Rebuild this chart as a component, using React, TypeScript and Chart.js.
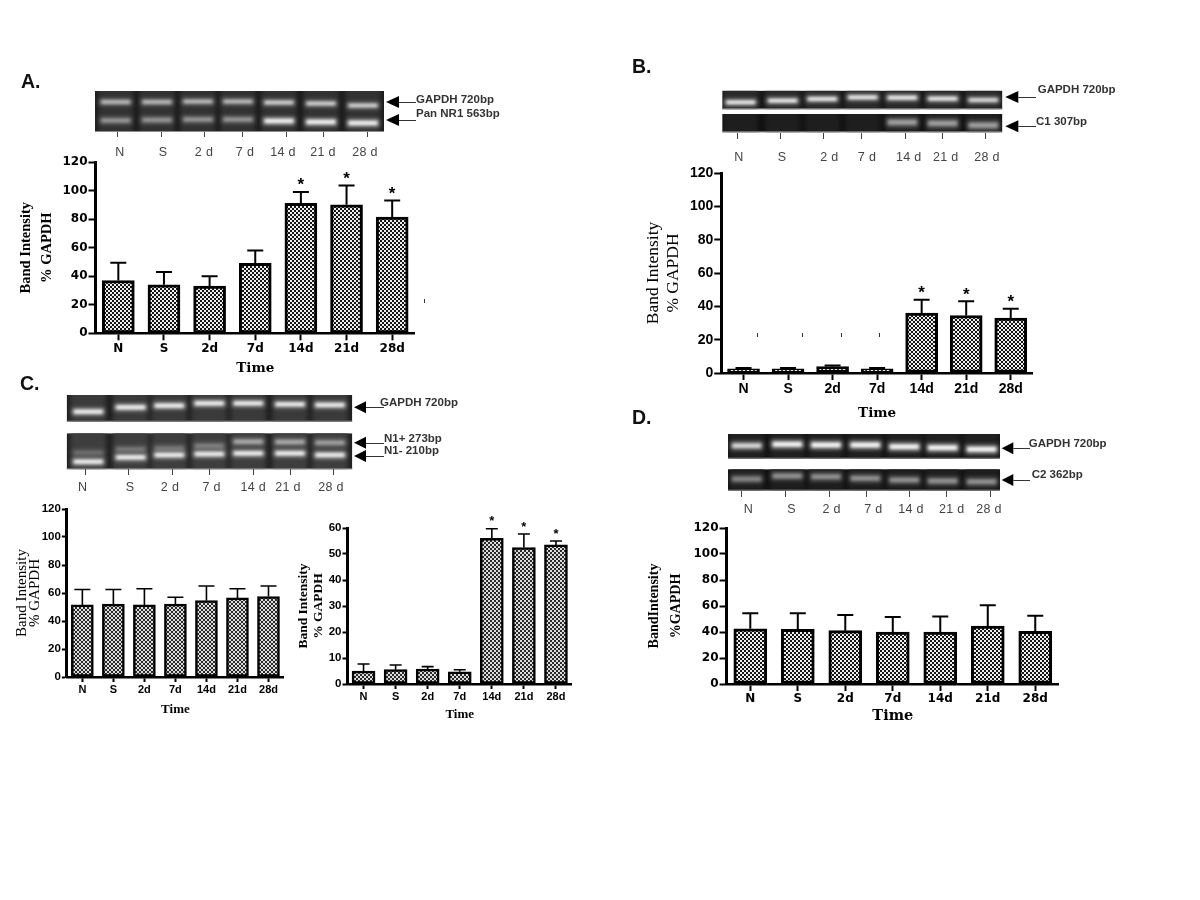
import React, { useEffect, useRef } from "react";
import { Chart, registerables } from "chart.js";

Chart.register(...registerables);

const categories = ["N", "S", "2d", "7d", "14d", "21d", "28d"];
const gelLabels = ["N", "S", "2 d", "7 d", "14 d", "21 d", "28 d"];

const valuesA = [37, 34, 33, 49, 91, 90, 81.5];
const errorTopsA = [49.5, 43, 40, 58, 99, 103.5, 93];
const starsA = [0, 0, 0, 0, 1, 1, 1];

const valuesB = [2.5, 2.5, 3.8, 2.5, 36, 34.5, 33];
const errorTopsB = [3, 3, 4.5, 3, 44, 43, 38.5];
const starsB = [0, 0, 0, 0, 1, 1, 1];

const valuesC1 = [51.5, 52, 51.5, 52, 54.5, 56.5, 57.5];
const errorTopsC1 = [62.5, 62.5, 63, 57, 65, 63, 65];
const starsC1 = [0, 0, 0, 0, 0, 0, 0];

const valuesC2 = [5, 5.5, 5.7, 4.7, 56, 52.5, 53.5];
const errorTopsC2 = [7.7, 7.3, 6.7, 5.5, 59.7, 57.7, 55];
const starsC2 = [0, 0, 0, 0, 1, 1, 1];

const valuesD = [42.5, 42, 41, 40, 40, 44.5, 40.5];
const errorTopsD = [54.5, 54.5, 53, 51.5, 52, 60.5, 52.5];
const starsD = [0, 0, 0, 0, 0, 0, 0];

type PanelCfg = {
  values: number[]; tops: number[]; stars: number[];
  axisX: number; right: number; plotTop: number; plotBottom: number;
  max: number; step: number;
  titleLines: string[]; titleX: number; titleFont: any; titleLh: number;
  timeY: number; timeFont: any; timeLh: number;
  tickFont: any; xTickFont: any; barW: number; borderW: number; capHalf: number;
  errW: number; starGap: number; starSize: number; tickLen: number;
  cell: number; dark: string; light: string;
};

const SANS = "'Liberation Sans', Arial, sans-serif";
const SERIF = "'Liberation Serif', 'Times New Roman', serif";
const DSERIF = "'DejaVu Serif', 'Liberation Serif', serif";
const DEJA = "'DejaVu Sans', sans-serif";

const panels: PanelCfg[] = [
  { values: valuesA, tops: errorTopsA, stars: starsA, axisX: 95, right: 414, plotTop: 161.7, plotBottom: 333.3,
    max: 120, step: 20, titleLines: ["Band Intensity", "% GAPDH"], titleX: 26, titleLh: 21,
    titleFont: { family: SERIF, size: 14.5, weight: "bold", lineHeight: 1.448 },
    timeY: 368, timeLh: 20, timeFont: { family: DSERIF, size: 13.5, weight: "bold", lineHeight: 1.481 },
    tickFont: { family: DEJA, size: 12, weight: "bold" }, xTickFont: { family: DEJA, size: 12, weight: "bold" },
    barW: 32, borderW: 3, capHalf: 8, errW: 2, starGap: 9, starSize: 17, tickLen: 7, cell: 2, dark: "#161616", light: "#eeeeee" },
  { values: valuesB, tops: errorTopsB, stars: starsB, axisX: 721, right: 1033, plotTop: 173.3, plotBottom: 373,
    max: 120, step: 20, titleLines: ["Band Intensity", "% GAPDH"], titleX: 653, titleLh: 20.5,
    titleFont: { family: SERIF, size: 17.5, weight: "normal", lineHeight: 1.171 },
    timeY: 413, timeLh: 20, timeFont: { family: DSERIF, size: 13.5, weight: "bold", lineHeight: 1.481 },
    tickFont: { family: SANS, size: 14, weight: "bold" }, xTickFont: { family: SANS, size: 14, weight: "bold" },
    barW: 32, borderW: 3, capHalf: 8, errW: 2, starGap: 9, starSize: 17, tickLen: 7, cell: 2, dark: "#161616", light: "#eeeeee" },
  { values: valuesC1, tops: errorTopsC1, stars: starsC1, axisX: 66.7, right: 284, plotTop: 509.3, plotBottom: 677,
    max: 120, step: 20, titleLines: ["Band Intensity", "% GAPDH"], titleX: 21.5, titleLh: 13.3,
    titleFont: { family: SERIF, size: 15, weight: "normal", lineHeight: 0.887 },
    timeY: 710, timeLh: 16, timeFont: { family: SERIF, size: 13, weight: "bold", lineHeight: 1.23 },
    tickFont: { family: SANS, size: 11.5, weight: "bold" }, xTickFont: { family: SANS, size: 11, weight: "bold" },
    barW: 22, borderW: 2.5, capHalf: 8, errW: 1.6, starGap: 8, starSize: 13, tickLen: 5, cell: 2, dark: "#2a2a2a", light: "#dddddd" },
  { values: valuesC2, tops: errorTopsC2, stars: starsC2, axisX: 347.3, right: 571.7, plotTop: 528, plotBottom: 684,
    max: 60, step: 10, titleLines: ["Band Intensity", "% GAPDH"], titleX: 303.3, titleLh: 15,
    titleFont: { family: SERIF, size: 13.5, weight: "bold", lineHeight: 1.111 },
    timeY: 715, timeLh: 16, timeFont: { family: SERIF, size: 13, weight: "bold", lineHeight: 1.23 },
    tickFont: { family: SANS, size: 11.5, weight: "bold" }, xTickFont: { family: SANS, size: 11, weight: "bold" },
    barW: 23, borderW: 2.5, capHalf: 6, errW: 1.6, starGap: 9, starSize: 13, tickLen: 5, cell: 2, dark: "#2a2a2a", light: "#dddddd" },
  { values: valuesD, tops: errorTopsD, stars: starsD, axisX: 726.7, right: 1058.7, plotTop: 528.3, plotBottom: 684,
    max: 120, step: 20, titleLines: ["BandIntensity", "%GAPDH"], titleX: 655, titleLh: 21.7,
    titleFont: { family: SERIF, size: 14, weight: "bold", lineHeight: 1.55 },
    timeY: 716, timeLh: 20, timeFont: { family: DSERIF, size: 14.5, weight: "bold", lineHeight: 1.379 },
    tickFont: { family: DEJA, size: 12, weight: "bold" }, xTickFont: { family: DEJA, size: 12, weight: "bold" },
    barW: 33, borderW: 3, capHalf: 8, errW: 2, starGap: 9, starSize: 17, tickLen: 7, cell: 2, dark: "#161616", light: "#eeeeee" },
];

function makePattern(cell: number, dark: string, light: string) {
  const c = document.createElement("canvas");
  c.width = c.height = cell * 2;
  const g = c.getContext("2d")!;
  g.fillStyle = light; g.fillRect(0, 0, cell * 2, cell * 2);
  g.fillStyle = dark; g.fillRect(0, 0, cell, cell); g.fillRect(cell, cell, cell, cell);
  return g.createPattern(c, "repeat")!;
}

const errorBarsPlugin = {
  id: "errorBars",
  afterDatasetsDraw(chart: any, _a: any, o: any) {
    const { ctx, scales } = chart;
    const meta = chart.getDatasetMeta(0);
    ctx.save();
    ctx.strokeStyle = "#000";
    ctx.lineWidth = o.width;
    meta.data.forEach((bar: any, i: number) => {
      const yTop = scales.y.getPixelForValue(o.tops[i]);
      ctx.beginPath();
      ctx.moveTo(bar.x, bar.y);
      ctx.lineTo(bar.x, yTop);
      ctx.moveTo(bar.x - o.capHalf, yTop);
      ctx.lineTo(bar.x + o.capHalf, yTop);
      ctx.stroke();
      if (o.stars[i]) {
        ctx.fillStyle = "#000";
        ctx.font = `bold ${o.starSize}px ${SANS}`;
        ctx.textAlign = "center";
        ctx.textBaseline = "middle";
        ctx.fillText("*", bar.x, yTop - o.starGap + o.starSize * 0.15);
      }
    });
    ctx.restore();
  },
};

function Panel({ p }: { p: PanelCfg }) {
  const ref = useRef<HTMLCanvasElement>(null);
  const left = p.titleX - p.titleLh / 2;
  const pad = 14;
  const top = p.plotTop - pad;
  const bottom = p.timeY + p.timeLh / 2;
  const W = p.axisX - left;
  const H = bottom - p.plotBottom;
  useEffect(() => {
    const chart = new Chart(ref.current!, {
      type: "bar",
      data: {
        labels: categories,
        datasets: [{
          data: p.values,
          backgroundColor: makePattern(p.cell, p.dark, p.light) as any,
          borderColor: "#000",
          borderWidth: p.borderW,
          borderSkipped: false,
          barThickness: p.barW,
        }],
      },
      plugins: [errorBarsPlugin],
      options: {
        animation: false,
        responsive: false,
        maintainAspectRatio: false,
        layout: { padding: { top: pad, left: 0, right: 0, bottom: 0 } },
        plugins: {
          legend: { display: false },
          tooltip: { enabled: false },
          errorBars: { tops: p.tops, stars: p.stars, width: p.errW, capHalf: p.capHalf, starGap: p.starGap, starSize: p.starSize },
        } as any,
        scales: {
          x: {
            grid: { offset: false, drawOnChartArea: false, drawTicks: true, tickLength: p.tickLen, tickWidth: 2, tickColor: "#000" },
            border: { display: true, color: "#000", width: 2.5 },
            ticks: { color: "#000", font: p.xTickFont, padding: 1, maxRotation: 0, autoSkip: false },
            title: { display: true, text: "Time", color: "#000", font: p.timeFont, padding: { top: 0, bottom: 0 } },
            afterFit: (s: any) => { s.height = H; },
          },
          y: {
            min: 0, max: p.max,
            grid: { drawOnChartArea: false, drawTicks: true, tickLength: p.tickLen, tickWidth: 2, tickColor: "#000" },
            border: { display: true, color: "#000", width: 3 },
            ticks: { color: "#000", font: p.tickFont, stepSize: p.step, padding: 1 },
            title: { display: true, text: p.titleLines, color: "#000", font: p.titleFont, padding: { top: 0, bottom: 0 } },
            afterFit: (s: any) => { s.width = W; },
          },
        },
      } as any,
    });
    return () => chart.destroy();
  }, []);
  return (
    <canvas
      ref={ref}
      width={Math.round(p.right - left)}
      height={Math.round(bottom - top)}
      style={{ position: "absolute", left, top, display: "block" }}
    />
  );
}

type Row = { ys: number[]; levels: number[]; thick: number };
type Strip = { x0: number; x1: number; y0: number; y1: number; lanes: number[]; halfW: number; bg: number; rows: Row[] };

const L4 = (a: number, b: number) => [a, a, a, a, b, b, b];

const strips: Strip[] = [
  { x0: 95, x1: 384, y0: 91, y1: 132, lanes: [115.7, 157, 198, 238, 279, 321, 363], halfW: 17, bg: 50, rows: [
    { ys: [102, 102, 101.5, 101.5, 102.5, 103.5, 105.5], levels: L4(0.68, 0.78), thick: 6 },
    { ys: [120.5, 120, 119.5, 119.5, 121, 122, 123], levels: L4(0.48, 1), thick: 7 } ] },
  { x0: 722.3, x1: 1002.3, y0: 90.7, y1: 109.3, lanes: [740.7, 782.7, 822.3, 862.7, 902.3, 942.7, 983.3], halfW: 17, bg: 42, rows: [
    { ys: [102.3, 100.7, 99, 97.3, 97.7, 98.7, 100], levels: [0.95, 0.95, 0.95, 0.95, 1, 0.95, 0.85], thick: 6 } ] },
  { x0: 722.3, x1: 1002.3, y0: 114, y1: 132.3, lanes: [740.7, 782.7, 822.3, 862.7, 902.3, 942.7, 983.3], halfW: 17, bg: 30, rows: [
    { ys: [122, 122, 122, 122, 122.3, 123.3, 125.3], levels: L4(0, 0.55), thick: 9 } ] },
  { x0: 66.7, x1: 352.3, y0: 395, y1: 421.7, lanes: [88.3, 130.7, 169.3, 209.3, 248.3, 290, 330], halfW: 17, bg: 58, rows: [
    { ys: [411.7, 407.3, 405.7, 403.3, 403.3, 404.3, 405], levels: L4(1, 0.95), thick: 6.5 } ] },
  { x0: 66.7, x1: 352.3, y0: 433.3, y1: 469.3, lanes: [88.3, 130.7, 169.3, 209.3, 248.3, 290, 330], halfW: 17, bg: 62, rows: [
    { ys: [452.7, 449.3, 448.3, 446, 441.7, 442, 442.7], levels: [0.25, 0.3, 0.3, 0.35, 0.55, 0.55, 0.5], thick: 7 },
    { ys: [461.7, 457.3, 455, 454, 453.3, 453.3, 455], levels: L4(1, 1), thick: 6.5 } ] },
  { x0: 728, x1: 1000, y0: 434, y1: 458.7, lanes: [746.7, 787.3, 826, 865.3, 904.3, 942.7, 981.7], halfW: 17, bg: 32, rows: [
    { ys: [445.7, 444.3, 445, 445, 446.7, 447.7, 449.3], levels: [0.8, 1, 1, 1, 1, 1, 1], thick: 8 } ] },
  { x0: 728, x1: 1000, y0: 469.3, y1: 490.7, lanes: [746.7, 787.3, 826, 865.3, 904.3, 942.7, 981.7], halfW: 17, bg: 30, rows: [
    { ys: [479, 476, 476.7, 478.3, 480, 481, 481.7], levels: [0.45, 0.5, 0.5, 0.5, 0.5, 0.5, 0.5], thick: 8 } ] },
];

const gelTicks = [
  { xs: [117, 161, 204, 242, 286, 323, 367], y0: 132, y1: 137 },
  { xs: [737, 780.3, 823.3, 860.7, 905, 942, 985.3], y0: 133, y1: 139 },
  { xs: [85, 128.3, 172, 209, 253, 290, 333.3], y0: 469, y1: 475 },
  { xs: [741.3, 785, 828.7, 865.7, 909.3, 946.3, 990], y0: 491, y1: 497 },
];

const arrows = [
  { tip: 386, base: 399, y: 102, end: 416 },
  { tip: 386, base: 399, y: 120, end: 416 },
  { tip: 1005.3, base: 1018.3, y: 97, end: 1036 },
  { tip: 1005.3, base: 1018.3, y: 126.3, end: 1036 },
  { tip: 354, base: 366, y: 407.3, end: 384 },
  { tip: 354, base: 366, y: 442.7, end: 384 },
  { tip: 354, base: 366, y: 456, end: 384 },
  { tip: 1001.7, base: 1013.3, y: 448.3, end: 1030 },
  { tip: 1001.7, base: 1013.3, y: 480, end: 1030 },
];

const strayMarks = [
  { x: 424.3, y: 301 }, { x: 757.3, y: 335 }, { x: 802.3, y: 335 }, { x: 841, y: 335 }, { x: 879, y: 335 },
];

const laneLabelSets = [
  { xs: [120, 163, 204, 245, 283, 323, 365], y: 152 },
  { xs: [739, 782, 829.3, 867, 908.7, 945.7, 987], y: 157.3 },
  { xs: [82.7, 130, 170, 211.7, 253.3, 288, 331], y: 487.3 },
  { xs: [748.3, 791.7, 831.7, 873.3, 911, 951.7, 989], y: 509.3 },
];

const bandLabels = [
  { t: "GAPDH 720bp", x: 416, y: 99.7 },
  { t: "Pan NR1 563bp", x: 416, y: 113.5 },
  { t: "GAPDH 720bp", x: 1037.7, y: 90 },
  { t: "C1 307bp", x: 1036, y: 122.3 },
  { t: "GAPDH 720bp", x: 380, y: 402.7 },
  { t: "N1+ 273bp", x: 384, y: 439 },
  { t: "N1- 210bp", x: 384, y: 450.7 },
  { t: "GAPDH 720bp", x: 1028.7, y: 444.3 },
  { t: "C2 362bp", x: 1031.7, y: 474.7 },
];

const panelLetters = [
  { t: "A.", x: 21, y: 81.5 },
  { t: "B.", x: 632, y: 66.7 },
  { t: "C.", x: 20, y: 384 },
  { t: "D.", x: 632, y: 418.3 },
];

function grey(v: number) {
  const n = Math.max(0, Math.min(255, Math.round(v)));
  return `rgb(${n},${n},${n})`;
}

function Backdrop() {
  const ref = useRef<HTMLCanvasElement>(null);
  useEffect(() => {
    const g = ref.current!.getContext("2d")!;
    g.fillStyle = "#fff";
    g.fillRect(0, 0, 1200, 900);
    for (const s of strips) {
      g.save();
      g.beginPath();
      g.rect(s.x0, s.y0, s.x1 - s.x0, s.y1 - s.y0);
      g.clip();
      g.fillStyle = grey(s.bg * 0.5);
      g.fillRect(s.x0, s.y0, s.x1 - s.x0, s.y1 - s.y0);
      g.filter = "blur(2.5px)";
      g.fillStyle = grey(s.bg);
      s.lanes.forEach((x) => g.fillRect(x - s.halfW - 1, s.y0 - 6, s.halfW * 2 + 2, s.y1 - s.y0 + 12));
      for (const r of s.rows) {
        s.lanes.forEach((x, i) => {
          const lv = r.levels[i];
          if (lv <= 0) return;
          g.filter = "blur(2px)";
          g.fillStyle = grey(s.bg + (225 - s.bg) * lv * 0.7);
          g.fillRect(x - s.halfW + 1, r.ys[i] - r.thick / 2, s.halfW * 2 - 2, r.thick);
          g.filter = "blur(1.6px)";
          g.fillStyle = grey(s.bg + (275 - s.bg) * lv);
          g.fillRect(x - s.halfW + 3, r.ys[i] - r.thick * 0.22, s.halfW * 2 - 6, r.thick * 0.44);
        });
      }
      g.restore();
      g.fillStyle = "#8c8c8c";
      g.fillRect(s.x0, s.y1 - 1, s.x1 - s.x0, 1);
    }
    g.strokeStyle = "#444";
    g.lineWidth = 1;
    for (const t of gelTicks) {
      t.xs.forEach((x) => {
        g.beginPath();
        g.moveTo(Math.round(x) + 0.5, t.y0);
        g.lineTo(Math.round(x) + 0.5, t.y1);
        g.stroke();
      });
    }
    for (const a of arrows) {
      g.fillStyle = "#000";
      g.beginPath();
      g.moveTo(a.tip, a.y);
      g.lineTo(a.base, a.y - 6);
      g.lineTo(a.base, a.y + 6);
      g.closePath();
      g.fill();
      g.strokeStyle = "#333";
      g.lineWidth = 1;
      g.beginPath();
      g.moveTo(a.base, Math.round(a.y) + 0.5);
      g.lineTo(a.end, Math.round(a.y) + 0.5);
      g.stroke();
    }
    g.fillStyle = "#333";
    strayMarks.forEach((m) => g.fillRect(Math.round(m.x), m.y - 2, 1, 4));
  }, []);
  return <canvas ref={ref} width={1200} height={900} style={{ position: "absolute", left: 0, top: 0, display: "block" }} />;
}

function Txt({ t, x, y, center, style }: { t: string; x: number; y: number; center?: boolean; style: React.CSSProperties }) {
  return (
    <div style={{ position: "absolute", left: x, top: y, whiteSpace: "nowrap", lineHeight: 1,
      transform: center ? "translate(-50%,-50%)" : "translateY(-50%)", ...style }}>{t}</div>
  );
}

export default function App() {
  return (
    <div style={{ position: "absolute", left: 0, top: 0, width: 1200, height: 900, background: "#fff", overflow: "hidden" }}>
      <Backdrop />
      {panels.map((p, i) => <Panel key={i} p={p} />)}
      {laneLabelSets.map((s, i) =>
        s.xs.map((x, j) => (
          <Txt key={`${i}-${j}`} t={gelLabels[j]} x={x} y={s.y} center
            style={{ fontFamily: SANS, fontSize: 12.5, color: "#444", letterSpacing: 0.3 }} />
        )))}
      {bandLabels.map((b, i) => (
        <Txt key={i} t={b.t} x={b.x} y={b.y} style={{ fontFamily: SANS, fontWeight: "bold", fontSize: 11.5, color: "#333" }} />
      ))}
      {panelLetters.map((b, i) => (
        <Txt key={i} t={b.t} x={b.x} y={b.y} style={{ fontFamily: SANS, fontWeight: "bold", fontSize: 19.5, color: "#111" }} />
      ))}
    </div>
  );
}
